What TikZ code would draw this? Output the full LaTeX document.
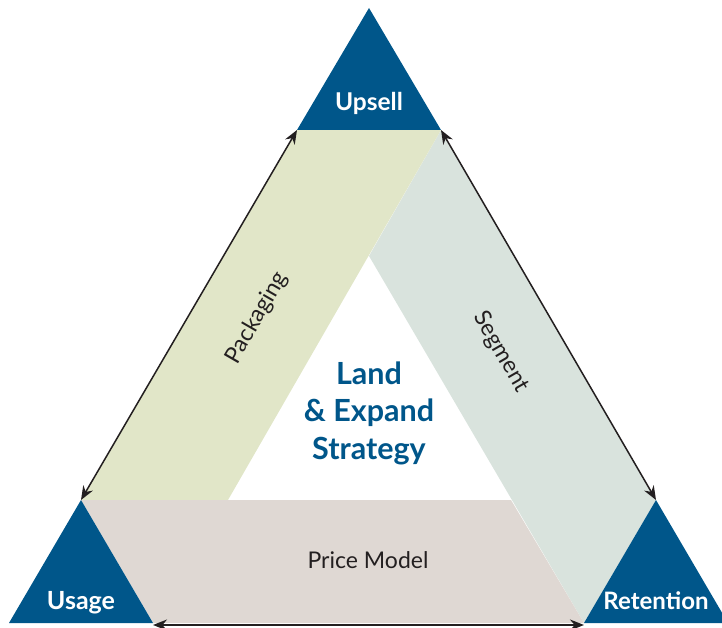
\documentclass[tikz,border=0pt]{standalone}
\usepackage{fontspec}
\setmainfont{Lato}
\usetikzlibrary{arrows.meta}
\definecolor{landblue}{RGB}{0,86,138}
\definecolor{packgreen}{RGB}{225,230,200}
\definecolor{seggray}{RGB}{217,227,221}
\definecolor{pricebeige}{RGB}{223,216,211}
\definecolor{inkgray}{RGB}{35,31,32}

\tikzset{
	cornertri/.style={fill=landblue},
	cornerlabel/.style={text=white, font=\fontsize{24.5}{28}\selectfont\bfseries, anchor=base},
	bandlabel/.style={text=inkgray, font=\fontsize{23}{27}\selectfont},
	edgearrow/.style={line width=1.5pt, color=inkgray, {Stealth[length=14pt,width=11pt]}-{Stealth[length=14pt,width=11pt]}}
}

\begin{document}
\begin{tikzpicture}[x=1pt, y=-1pt]
			%%%%% START %%%%%
			\clip (0, 0) rectangle (722, 628);
			
			% corners of the three bands
			\coordinate (upl) at (297, 130);
			\coordinate (upr) at (441, 130);
			\coordinate (usa) at (81, 500);
			\coordinate (usr) at (153, 623);
			\coordinate (ret) at (656, 500);
			\coordinate (rel) at (584, 623);
			\coordinate (inapex) at (369, 256);
			\coordinate (inleft) at (228, 500);
			\coordinate (inright) at (511, 500);
			
			% bands
			\fill[seggray] (upr) -- (ret) -- (rel) -- (inapex) -- cycle;
			\fill[packgreen] (upl) -- (upr) -- (inleft) -- (usa) -- cycle;
			\fill[pricebeige] (usa) -- (inright) -- (rel) -- (usr) -- cycle;
			
			% corner triangles
			\fill[cornertri] (369, 8) -- (upr) -- (upl) -- cycle;
			\fill[cornertri] (usa) -- (usr) -- (9, 623) -- cycle;
			\fill[cornertri] (ret) -- (728, 623) -- (rel) -- cycle;
			
			\node[cornerlabel] (upsell) at (369, 111) {Upsell};
			\node[cornerlabel, font=\fontsize{25}{28}\selectfont\bfseries] (usage) at (81, 609) {Usage};
			\node[cornerlabel, font=\fontsize{24}{28}\selectfont\bfseries] (retention) at (656, 609) {Retention};
			
			% band labels
			\node[bandlabel, rotate=60] (packaging) at (257, 318) {Packaging};
			\node[bandlabel, rotate=-60] (segment) at (501, 352) {Segment};
			\node[bandlabel, anchor=base] (pricemodel) at (368, 568) {Price Model};
			
			\node[text=landblue, align=center, font=\fontsize{30.5}{37.5}\selectfont\bfseries] (strategy) at (369, 413) {Land\\\& Expand\\Strategy};
			
			% arrows along the edges
			\coordinate (bl) at (153, 625);
			\coordinate (br) at (584, 625);
			\draw[edgearrow] (upl) -- (usa);
			\draw[edgearrow] (upr) -- (ret);
			\draw[edgearrow] (bl) -- (br);
			%%%%% END %%%%%
\end{tikzpicture}
\end{document}
